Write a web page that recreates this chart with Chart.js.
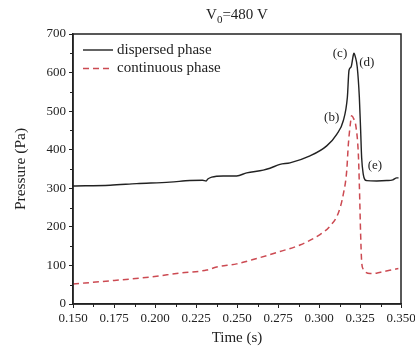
<!DOCTYPE html>
<html>
<head>
<meta charset="utf-8">
<script src="https://cdn.jsdelivr.net/npm/chart.js@4/dist/chart.umd.min.js"></script>
<style>
  html,body{margin:0;padding:0;background:#fff}
  #wrap{width:415px;height:351px;position:relative}
</style>
</head>
<body>
<div id="wrap"><canvas id="chart"></canvas></div>
<script>
/* ── Data ── */
const dispTime = [0.150,0.1726,0.1888,0.2091,0.2213,0.2290,0.2312,0.2322,0.2346,0.2416,0.2498,0.2559,0.2660,0.2701,0.2762,0.2823,0.2945,0.3047,0.3108,0.3148,0.3173,0.3183,0.3196,0.3209,0.3213,0.3222,0.3233,0.3246,0.3254,0.3260,0.3270,0.3280,0.3291,0.3352,0.3413,0.3450,0.3474,0.3485];
const dispPressure = [306,308,312,316,320,321,319,324,329,332,332,340,347,352,362,366,384,410,440,475,536,606,615,645,650,640,615,536,449,380,336,322,320,319,320,322,327,327];

const contTime = [0.150,0.1726,0.197,0.2152,0.2315,0.2376,0.2498,0.262,0.2762,0.2884,0.3006,0.3067,0.3118,0.3148,0.3169,0.3179,0.3192,0.3199,0.3212,0.3226,0.3240,0.3246,0.3254,0.3260,0.3270,0.3280,0.3311,0.3350,0.3392,0.3440,0.3484];
const contPressure = [52,60,70,80,88,96,104,118,136,153,180,202,236,284,345,414,470,488,480,458,388,310,179,110,90,84,79,80,84,88,92];

const xTicks = [0.150,0.175,0.200,0.225,0.250,0.275,0.300,0.325,0.350];
const yTicks = [0,100,200,300,400,500,600,700];

const marks   = ['(b)','(c)','(d)','(e)'];
const markT   = [0.3077,0.3128,0.3291,0.3341];
const markP   = [483,650,627,360];

const SERIF = '"Liberation Serif","Times New Roman",serif';
const INK = '#222';
const RED = '#cc4a52';

/* ── Title, frame, minor ticks, legend, labels ── */
const decor = {
  id:'decor',
  afterDraw(c){
    const ctx=c.ctx, a=c.chartArea, xs=c.scales.x, ys=c.scales.y;
    ctx.save();
    ctx.strokeStyle=INK; ctx.lineWidth=1.5;
    ctx.strokeRect(a.left,a.top,a.right-a.left,a.bottom-a.top);
    // minor ticks
    ctx.lineWidth=1;
    ctx.beginPath();
    for(let i=0;i<xTicks.length-1;i++){
      const px=Math.round(xs.getPixelForValue((xTicks[i]+xTicks[i+1])/2))+0.5;
      ctx.moveTo(px,a.bottom); ctx.lineTo(px,a.bottom+3);
    }
    for(let i=0;i<yTicks.length-1;i++){
      const py=Math.round(ys.getPixelForValue((yTicks[i]+yTicks[i+1])/2))+0.5;
      ctx.moveTo(a.left,py); ctx.lineTo(a.left-3,py);
    }
    ctx.stroke();
    // title with subscript, centred over the plot
    ctx.fillStyle=INK; ctx.textBaseline='alphabetic'; ctx.textAlign='left';
    const big='15px '+SERIF, small='11px '+SERIF;
    ctx.font=big; const w1=ctx.measureText('V').width, w3=ctx.measureText('=480 V').width;
    ctx.font=small; const w2=ctx.measureText('0').width;
    let tx=(a.left+a.right)/2-(w1+w2+w3)/2; const ty=19;
    ctx.font=big; ctx.fillText('V',tx,ty); tx+=w1;
    ctx.font=small; ctx.fillText('0',tx,ty+4); tx+=w2;
    ctx.font=big; ctx.fillText('=480 V',tx,ty);
    // legend
    const ds=c.data.datasets;
    ctx.font='15px '+SERIF; ctx.textBaseline='middle';
    ds.forEach((d,i)=>{
      const y=a.top+16+i*18.5;
      ctx.strokeStyle=d.borderColor; ctx.lineWidth=d.borderWidth;
      ctx.setLineDash(d.borderDash||[]);
      ctx.beginPath(); ctx.moveTo(a.left+10,y); ctx.lineTo(a.left+40,y); ctx.stroke();
      ctx.setLineDash([]);
      ctx.fillText(d.label,a.left+44,y);
    });
    // curve labels
    ctx.font='13px '+SERIF; ctx.textAlign='center';
    marks.forEach((m,i)=>ctx.fillText(m,xs.getPixelForValue(markT[i]),ys.getPixelForValue(markP[i])));
    ctx.restore();
  }
};

const toXY=(t,p)=>t.map((v,i)=>({x:v,y:p[i]}));

new Chart(document.getElementById('chart'),{
  type:'line',
  data:{ datasets:[
    { label:'dispersed phase', data:toXY(dispTime,dispPressure), borderColor:INK, borderWidth:1.4,
      pointRadius:0, cubicInterpolationMode:'monotone', fill:false },
    { label:'continuous phase', data:toXY(contTime,contPressure), borderColor:RED, borderWidth:1.5,
      borderDash:[6,4], pointRadius:0, cubicInterpolationMode:'monotone', fill:false }
  ]},
  options:{
    responsive:true, maintainAspectRatio:false, animation:false,
    layout:{ padding:{ left:0, right:14, top:34, bottom:0 } },
    plugins:{ legend:{ display:false }, tooltip:{ enabled:false } },
    scales:{
      x:{ type:'linear', min:0.15, max:0.35,
        afterBuildTicks:s=>{ s.ticks=xTicks.map(v=>({value:v})); },
        afterFit:s=>{ s.height=47; s.paddingRight=0; s.paddingLeft=0; },
        grid:{ drawOnChartArea:false, tickLength:4, tickColor:INK, color:INK },
        border:{ color:INK, width:1.5 },
        ticks:{ color:INK, font:{ family:SERIF, size:13 }, padding:3, maxRotation:0, autoSkip:false, callback:v=>v.toFixed(3) },
        title:{ display:true, text:'Time (s)', color:INK, font:{ family:SERIF, size:15 }, padding:{ top:4 } }
      },
      y:{ min:0, max:700,
        afterBuildTicks:s=>{ s.ticks=yTicks.map(v=>({value:v})); },
        afterFit:s=>{ s.width=73; s.paddingTop=0; s.paddingBottom=0; },
        grid:{ drawOnChartArea:false, tickLength:4, tickColor:INK, color:INK },
        border:{ color:INK, width:1.5 },
        ticks:{ color:INK, font:{ family:SERIF, size:13 }, padding:3 },
        title:{ display:true, text:'Pressure (Pa)', color:INK, font:{ family:SERIF, size:15.5 }, padding:{ top:12, bottom:0 } }
      }
    }
  },
  plugins:[decor]
});
</script>
</body>
</html>
